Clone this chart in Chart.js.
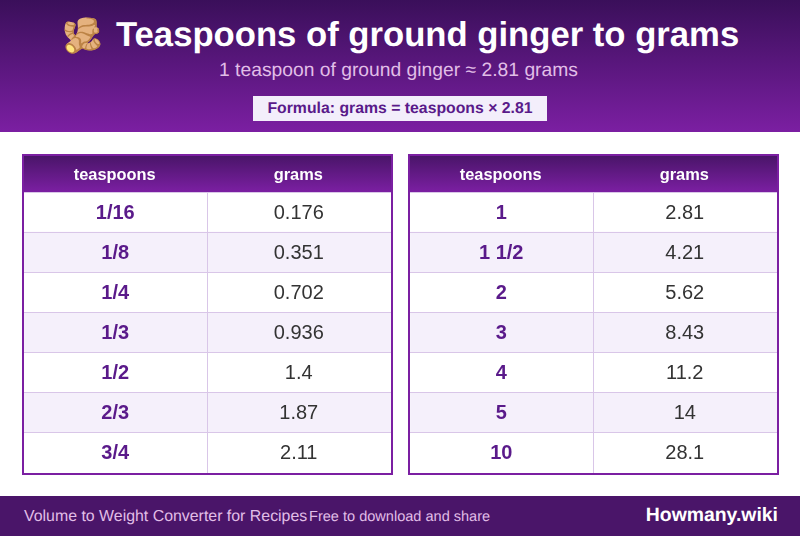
<!DOCTYPE html>
<html><head><meta charset="utf-8">
<script src="https://cdn.jsdelivr.net/npm/chart.js@4"></script>
<style>
html,body{margin:0;padding:0;background:#fff;width:800px;height:536px;overflow:hidden;font-family:Arial,"Liberation Sans",sans-serif;text-rendering:geometricPrecision}
#head{position:absolute;left:0;top:0;width:800px;height:132px;background:linear-gradient(180deg,#3a0f5a 0%,#7b1fa2 100%)}
.abs{position:absolute;white-space:nowrap;line-height:1}
#emoji{left:62px;top:19px;font-size:33px}
#title{left:116px;top:18px;color:#fff;font-weight:700;font-size:34.67px}
#sub{left:219px;top:61px;color:#e1bee7;font-size:19.3px}
#formula{left:253px;top:96px;width:294px;height:25px;background:#f3eefb;color:#5a1a8a;font-weight:700;font-size:15.8px;line-height:26px;text-align:center}
#foot{position:absolute;left:0;top:496px;width:800px;height:40px;background:#4a1569}
#f1{left:24px;top:509px;font-size:15.9px;color:#e1bee7;position:absolute}
#f2{left:309px;top:510px;font-size:14.55px;color:#e1bee7}
#f3{right:22px;top:506px;font-size:19.4px;font-weight:700;color:#fff}
.tbl{position:absolute;top:154px;width:367px;height:317px;border:2px solid #7b1fa2}
.tbl canvas{display:block}
</style></head><body>
<div id="head"></div>
<div class="abs" id="emoji">🫚</div>
<div class="abs" id="title">Teaspoons of ground ginger to grams</div>
<div class="abs" id="sub">1 teaspoon of ground ginger ≈ 2.81 grams</div>
<div class="abs" id="formula">Formula: grams = teaspoons × 2.81</div>
<div class="tbl" style="left:22px"><canvas id="c1" width="367" height="317"></canvas></div>
<div class="tbl" style="left:408px"><canvas id="c2" width="367" height="317"></canvas></div>
<div id="foot"></div>
<div class="abs" id="f1">Volume to Weight Converter for Recipes</div>
<div class="abs" id="f2">Free to download and share</div>
<div class="abs" id="f3">Howmany.wiki</div>
<script>
const columnHeaders = ['teaspoons','grams'];
const teaspoonsLeft = ['1/16','1/8','1/4','1/3','1/2','2/3','3/4'];
const gramsLeft = ['0.176','0.351','0.702','0.936','1.4','1.87','2.11'];
const teaspoonsRight = ['1','1 1/2','2','3','4','5','10'];
const gramsRight = ['2.81','4.21','5.62','8.43','11.2','14','28.1'];
const rowSpan = [2,2,2,2,2,2,2];

const cellText = {
  id:'cellText',
  afterDatasetsDraw(chart){
    const {ctx,scales:{x,y}} = chart;
    const opt = chart.options.plugins.cellText;
    ctx.save();
    ctx.textAlign='center';ctx.textBaseline='middle';
    opt.first.forEach((t,i)=>{
      const py=y.getPixelForValue(i)+1;
      ctx.font='700 20px Arial';ctx.fillStyle='#5a1a8a';
      ctx.fillText(t,x.getPixelForValue(0.5)-0.5,py);
      ctx.font='400 20px Arial';ctx.fillStyle='#333333';
      ctx.fillText(opt.second[i],x.getPixelForValue(1.5)-0.5,py);
    });
    ctx.restore();
  }
};
const headerBand = {
  id:'headerBand',
  beforeDraw(chart){
    const {ctx,chartArea:a} = chart;
    const g=ctx.createLinearGradient(0,0,0,a.top);
    g.addColorStop(0,'#4a1569');g.addColorStop(1,'#7b1fa2');
    ctx.save();ctx.fillStyle=g;ctx.fillRect(0,0,chart.width,a.top);ctx.restore();
  }
};
function makeTable(id,first,second){
  new Chart(document.getElementById(id),{
    type:'bar',
    plugins:[headerBand,cellText],
    data:{labels:first,datasets:[{data:rowSpan,barPercentage:1,categoryPercentage:1,borderWidth:0,
      backgroundColor:first.map((_,i)=>i%2?'#f5f0fb':'#ffffff')}]},
    options:{
      indexAxis:'y',responsive:false,animation:false,devicePixelRatio:1,
      layout:{padding:0,autoPadding:false},
      plugins:{legend:{display:false},tooltip:{enabled:false},title:{display:false},
        cellText:{first,second}},
      scales:{
        x:{type:'linear',position:'top',min:0,max:2,
          afterBuildTicks(s){s.ticks=[0,0.5,1,1.5,2].map(value=>({value}));},
          afterFit(s){s.height=36;s.paddingLeft=0;s.paddingRight=0;},
          afterTickToLabelConversion(s){s.ticks.forEach(t=>{t.label=t.value===0.5?columnHeaders[0]:t.value===1.5?columnHeaders[1]:'';});},
          border:{display:false},
          grid:{drawTicks:false,color:c=>c.tick&&c.tick.value===1?'#d9c6e8':'rgba(0,0,0,0)',lineWidth:1,z:1},
          ticks:{autoSkip:false,maxRotation:0,padding:7,labelOffset:-1,color:'#ffffff',font:{family:'Arial',size:16.4,weight:'700'}}},
        y:{type:'category',offset:true,
          afterFit(s){s.width=0;},
          border:{display:false},
          grid:{drawTicks:false,color:'#d9c6e8',lineWidth:1,z:1},
          ticks:{display:false}}
      }
    }
  });
}
makeTable('c1',teaspoonsLeft,gramsLeft);
makeTable('c2',teaspoonsRight,gramsRight);
</script>
</body></html>
